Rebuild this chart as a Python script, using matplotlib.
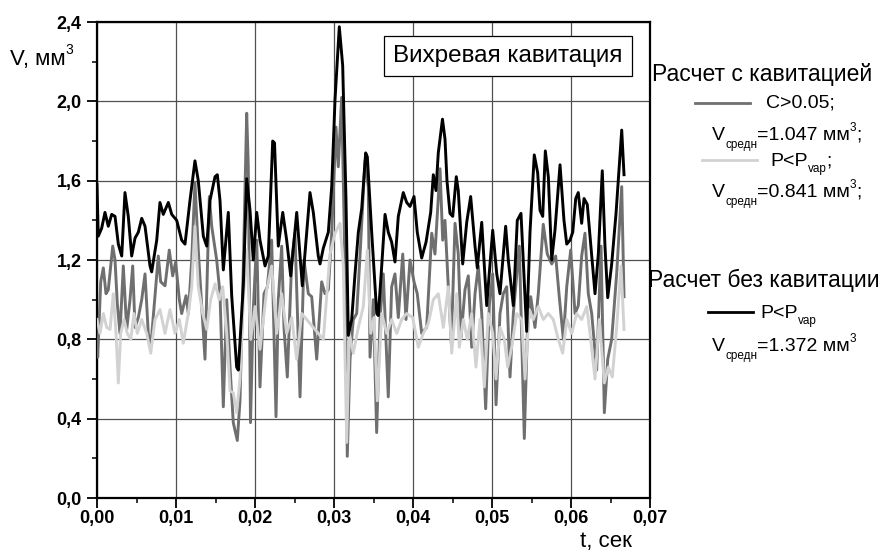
import matplotlib
matplotlib.use("Agg")
import matplotlib.pyplot as plt
from matplotlib.ticker import MultipleLocator, FuncFormatter
from matplotlib.lines import Line2D

plt.rcParams['font.family'] = ['Liberation Sans', 'DejaVu Sans']

# Расчет без кавитации, P<Pvap (black)
t_nocav = [0.0, 0.00016, 0.00059, 0.00101, 0.00143, 0.00186, 0.00228, 0.0027, 0.00313, 0.00354,
           0.00396, 0.00439, 0.00481, 0.00523, 0.00566, 0.00608, 0.00671, 0.00692, 0.00756, 0.00797,
           0.00839, 0.00903, 0.00946, 0.01009, 0.01072, 0.01114, 0.01177, 0.0124, 0.01282, 0.01346,
           0.01389, 0.0143, 0.01494, 0.01523, 0.01557, 0.01599, 0.01662, 0.01705, 0.01768, 0.01789,
           0.01852, 0.01895, 0.01937, 0.01978, 0.02022, 0.02063, 0.02127, 0.02168, 0.02224, 0.02247,
           0.02295, 0.02351, 0.02401, 0.02452, 0.02528, 0.02599, 0.02696, 0.02738, 0.02801, 0.02823,
           0.02865, 0.02928, 0.02971, 0.03013, 0.03067, 0.0311, 0.03152, 0.03181, 0.03224, 0.03266,
           0.03308, 0.03351, 0.03401, 0.03422, 0.03477, 0.03541, 0.03561, 0.03604, 0.03646, 0.03687,
           0.0373, 0.03772, 0.03814, 0.03877, 0.0392, 0.03962, 0.04013, 0.04054, 0.0411, 0.04165,
           0.04224, 0.04257, 0.04291, 0.0432, 0.04373, 0.04405, 0.0443, 0.04468, 0.04503, 0.04548,
           0.04573, 0.04629, 0.0468, 0.0473, 0.04785, 0.04814, 0.0487, 0.04933, 0.05009, 0.0506,
           0.05101, 0.05173, 0.05206, 0.0527, 0.0532, 0.05367, 0.05439, 0.05481, 0.05535, 0.05578,
           0.05608, 0.05642, 0.05675, 0.05713, 0.05756, 0.05797, 0.05861, 0.05911, 0.05946, 0.05987,
           0.06022, 0.0606, 0.06092, 0.06135, 0.06165, 0.06206, 0.06304, 0.06346, 0.06396, 0.0643,
           0.06465, 0.06515, 0.0657, 0.06642, 0.06671]
v_nocav = [1.58, 1.32, 1.36, 1.44, 1.37, 1.43, 1.42, 1.28, 1.22, 1.54,
           1.42, 1.22, 1.31, 1.34, 1.41, 1.37, 1.17, 1.14, 1.30, 1.49,
           1.43, 1.49, 1.43, 1.40, 1.30, 1.28, 1.50, 1.70, 1.60, 1.32,
           1.27, 1.50, 1.62, 1.63, 1.50, 1.15, 1.44, 1.02, 0.66, 0.645,
           1.07, 1.61, 1.45, 1.20, 1.44, 1.30, 1.17, 1.22, 1.80, 1.79,
           1.27, 1.44, 1.30, 1.12, 1.44, 1.07, 1.54, 1.44, 1.22, 1.18,
           1.26, 1.34, 1.57, 2.01, 2.376, 2.18, 1.50, 0.82, 0.90, 1.13,
           1.34, 1.46, 1.74, 1.72, 1.34, 0.93, 0.92, 1.17, 1.43, 1.34,
           1.29, 1.19, 1.42, 1.54, 1.49, 1.47, 1.52, 1.34, 1.21, 1.29,
           1.44, 1.63, 1.55, 1.74, 1.91, 1.81, 1.60, 1.435, 1.42, 1.62,
           1.55, 1.18, 1.39, 1.52, 1.27, 1.16, 1.39, 0.97, 1.35, 1.13,
           1.03, 1.37, 1.20, 0.97, 1.40, 1.435, 0.84, 1.34, 1.73, 1.64,
           1.45, 1.42, 1.75, 1.62, 1.20, 1.35, 1.68, 1.40, 1.28, 1.30,
           1.34, 1.51, 1.54, 1.385, 1.51, 1.48, 1.03, 1.23, 1.65, 1.27,
           1.01, 1.18, 1.435, 1.855, 1.63]

# Расчет с кавитацией, C>0.05 (dark gray)
t_c05 = [0.0, 0.00009, 0.00047, 0.0008, 0.00114, 0.00143, 0.00199, 0.00228, 0.00257, 0.00291,
         0.00333, 0.00376, 0.00418, 0.00452, 0.00481, 0.00523, 0.00566, 0.00608, 0.00649, 0.0068,
         0.00734, 0.00776, 0.00806, 0.00861, 0.00915, 0.00958, 0.00996, 0.01042, 0.01072, 0.01127,
         0.01156, 0.01199, 0.0124, 0.01282, 0.01346, 0.01367, 0.01422, 0.01452, 0.01515, 0.01557,
         0.01599, 0.01642, 0.01684, 0.01725, 0.01776, 0.0181, 0.01852, 0.01895, 0.01915, 0.01943,
         0.01978, 0.02022, 0.02063, 0.02114, 0.02156, 0.02211, 0.02266, 0.02295, 0.02338, 0.02367,
         0.02409, 0.02465, 0.02506, 0.0257, 0.0262, 0.02675, 0.02718, 0.02781, 0.02844, 0.02886,
         0.02928, 0.02971, 0.03025, 0.03054, 0.03097, 0.03139, 0.03168, 0.03203, 0.03244, 0.03287,
         0.03329, 0.03392, 0.03434, 0.03456, 0.03497, 0.0354, 0.03582, 0.03624, 0.03687, 0.0373,
         0.03772, 0.03814, 0.0387, 0.03911, 0.03962, 0.04013, 0.04054, 0.0411, 0.04173, 0.04237,
         0.04278, 0.04342, 0.04376, 0.04405, 0.04447, 0.04485, 0.04532, 0.04573, 0.04608, 0.04658,
         0.047, 0.04743, 0.04785, 0.04827, 0.0487, 0.0492, 0.04966, 0.05009, 0.05051, 0.05101,
         0.05143, 0.05186, 0.05228, 0.0527, 0.05346, 0.05409, 0.05447, 0.0549, 0.05544, 0.05586,
         0.05649, 0.057, 0.05756, 0.05806, 0.05848, 0.05903, 0.05946, 0.05996, 0.06051, 0.06092,
         0.06135, 0.06177, 0.06219, 0.06262, 0.06325, 0.0638, 0.06422, 0.06465, 0.06515, 0.06578,
         0.06642, 0.06671]
v_c05 = [0.76, 0.71, 1.09, 1.16, 1.03, 1.05, 1.27, 1.20, 0.98, 0.83,
         1.17, 0.85, 1.00, 1.17, 0.86, 0.91, 1.00, 1.13, 0.83, 0.76,
         1.02, 1.22, 1.09, 1.07, 1.25, 1.12, 1.19, 1.00, 0.93, 1.02,
         0.93, 1.20, 1.59, 1.25, 0.83, 0.70, 1.52, 1.37, 1.20, 1.03,
         0.46, 1.00, 0.66, 0.38, 0.29, 0.49, 1.17, 1.94, 1.67, 0.38,
         0.95, 1.30, 0.56, 1.03, 1.065, 1.30, 0.41, 1.00, 1.27, 0.86,
         0.61, 1.20, 1.335, 0.51, 1.20, 1.03, 1.015, 0.70, 1.09, 1.03,
         1.05, 1.335, 1.87, 1.67, 2.02, 1.17, 0.21, 0.70, 0.90, 0.93,
         1.22, 1.70, 1.57, 0.71, 1.00, 0.33, 0.90, 1.13, 0.51, 1.065,
         1.13, 0.91, 1.23, 0.90, 1.20, 1.09, 1.03, 0.83, 0.86, 1.335,
         1.23, 1.66, 1.30, 1.40, 1.065, 0.78, 1.385, 1.23, 0.81, 1.05,
         1.12, 0.76, 1.03, 1.17, 0.93, 0.45, 0.97, 1.13, 0.47, 0.93,
         1.03, 1.065, 0.61, 0.93, 1.27, 0.30, 0.83, 1.015, 0.86, 1.03,
         1.38, 1.23, 1.18, 1.22, 1.03, 0.80, 1.065, 1.25, 0.93, 0.97,
         1.22, 1.335, 1.03, 0.93, 0.645, 1.27, 0.43, 0.70, 0.80, 1.13,
         1.57, 1.015]

# Расчет с кавитацией, P<Pvap (light gray)
t_pvap = [0.0, 0.00038, 0.0008, 0.00123, 0.00165, 0.00206, 0.00241, 0.0027, 0.003, 0.00342,
          0.00384, 0.00427, 0.00468, 0.0051, 0.00566, 0.00629, 0.0068, 0.00734, 0.00797, 0.00861,
          0.00924, 0.00987, 0.01042, 0.01092, 0.01156, 0.01199, 0.0124, 0.01282, 0.01338, 0.01389,
          0.01439, 0.01494, 0.01548, 0.01591, 0.01642, 0.01684, 0.01725, 0.01768, 0.0181, 0.01852,
          0.01895, 0.01946, 0.02, 0.02063, 0.02148, 0.02211, 0.02275, 0.02338, 0.02401, 0.02465,
          0.02528, 0.02591, 0.02654, 0.02738, 0.02801, 0.02865, 0.02949, 0.03013, 0.03076, 0.03118,
          0.03161, 0.03194, 0.03244, 0.03308, 0.03371, 0.03422, 0.03465, 0.03506, 0.03548, 0.03604,
          0.03667, 0.0373, 0.03794, 0.03857, 0.0392, 0.03996, 0.04067, 0.0413, 0.04194, 0.04257,
          0.0432, 0.04384, 0.04447, 0.0449, 0.04553, 0.04586, 0.04637, 0.04687, 0.04743, 0.04797,
          0.04848, 0.04903, 0.04953, 0.05009, 0.05051, 0.05101, 0.05156, 0.05199, 0.05249, 0.05313,
          0.05376, 0.05418, 0.05472, 0.05523, 0.05586, 0.05649, 0.05713, 0.05776, 0.05839, 0.05895,
          0.05946, 0.06009, 0.06072, 0.06135, 0.06199, 0.06241, 0.06304, 0.06358, 0.06422, 0.06472,
          0.06523, 0.06578, 0.06633, 0.06671]
v_pvap = [0.90, 0.83, 0.93, 0.86, 0.85, 1.03, 0.83, 0.58, 0.83, 0.90,
          0.83, 0.80, 0.93, 0.83, 0.90, 0.83, 0.73, 0.90, 0.95, 0.83,
          0.95, 0.83, 0.90, 0.78, 0.93, 1.065, 1.37, 1.065, 0.93, 0.85,
          1.00, 1.08, 1.00, 1.065, 0.83, 0.54, 0.53, 0.43, 0.60, 1.00,
          1.25, 0.80, 0.965, 0.75, 1.05, 1.17, 0.83, 1.03, 0.83, 0.91,
          0.70, 0.93, 0.90, 0.86, 0.83, 0.80, 1.23, 1.335, 1.385, 1.17,
          0.28, 0.83, 0.73, 0.86, 0.965, 1.25, 0.83, 0.91, 0.49, 0.93,
          0.83, 0.90, 0.83, 0.90, 0.93, 0.91, 0.76, 0.83, 0.88, 1.00,
          1.03, 0.86, 1.065, 0.73, 1.03, 0.76, 0.90, 0.80, 0.93, 0.66,
          0.90, 0.56, 0.93, 0.83, 0.60, 0.86, 0.80, 0.66, 0.76, 0.93,
          0.90, 0.60, 0.95, 0.90, 0.965, 0.90, 0.93, 0.90, 0.80, 0.73,
          0.90, 0.83, 0.93, 0.90, 0.965, 0.83, 0.60, 0.90, 0.58, 0.66,
          0.61, 0.86, 1.17, 0.85]

y_ticks = [0.0, 0.4, 0.8, 1.2, 1.6, 2.0, 2.4]
x_ticks = [0.00, 0.01, 0.02, 0.03, 0.04, 0.05, 0.06, 0.07]

c_dark = '#6f6f6f'
c_light = '#d2d2d2'

W, H = 881, 552
fig = plt.figure(figsize=(W / 100, H / 100), dpi=100)
ax = fig.add_axes([97/W, 1 - 498/H, (650 - 97)/W, (498 - 22)/H])

ax.plot(t_c05, v_c05, color=c_dark, lw=2.1, zorder=3)
ax.plot(t_pvap, v_pvap, color=c_light, lw=2.1, zorder=3)
ax.plot(t_nocav, v_nocav, color='black', lw=2.1, zorder=4)

ax.set_xlim(0, 0.07)
ax.set_ylim(0, 2.4)
ax.set_xticks(x_ticks)
ax.set_yticks(y_ticks)
ax.xaxis.set_minor_locator(MultipleLocator(0.005))
ax.yaxis.set_minor_locator(MultipleLocator(0.2))
ax.xaxis.set_major_formatter(FuncFormatter(lambda v, p: f'{v:.2f}'.replace('.', ',')))
ax.yaxis.set_major_formatter(FuncFormatter(lambda v, p: f'{v:.1f}'.replace('.', ',')))
ax.grid(True, which='major', color='#505050', lw=0.9, zorder=1)

for s in ax.spines.values():
    s.set_linewidth(1.6)
ax.tick_params(which='major', direction='out', length=7, width=1.3)
ax.tick_params(which='minor', direction='out', length=3.5, width=1.1)
ax.tick_params(axis='y', pad=4)
ax.tick_params(axis='x', pad=2)
for lab in ax.get_xticklabels() + ax.get_yticklabels():
    lab.set_fontweight('bold')
    lab.set_fontsize(13)

renderer = fig.canvas.get_renderer()


def fy(y):
    return 1 - y / H


def rich(x, y, parts):
    # parts: (text, size, shift in px up from baseline)
    for s, size, rise in parts:
        t = fig.text(x / W, fy(y - rise), s, fontsize=size, ha='left', va='baseline')
        x += t.get_window_extent(renderer).width
    return x


# box label inside the plot
fig.text(508/W, fy(56), 'Вихревая кавитация', fontsize=17.5, ha='center', va='center',
         bbox=dict(boxstyle='square,pad=0.38', fc='white', ec='black', lw=0.9))

# axis labels
rich(10, 65, [('V, мм', 16, 0), ('3', 10, 11)])
fig.text(606/W, fy(541), 't, сек', fontsize=16, ha='center', va='center')

# right-side legend
main, small = 14, 8.5
fig.text(652/W, fy(75), 'Расчет с кавитацией', fontsize=16.5, ha='left', va='center')
fig.add_artist(Line2D([695/W, 750/W], [fy(103), fy(103)], color=c_dark, lw=2))
fig.text(766/W, fy(103), 'C>0.05;', fontsize=main, ha='left', va='center')
rich(712, 140, [('V', main, 0), ('средн', small, -8), ('=1.047 мм', main, 0),
                ('3', small, 9), (';', main, 0)])
fig.add_artist(Line2D([702/W, 757/W], [fy(160), fy(160)], color=c_light, lw=2))
rich(770, 166, [('P<P', main, 0), ('vap', small, -6), (';', main, 0)])
rich(712, 197, [('V', main, 0), ('средн', small, -8), ('=0.841 мм', main, 0),
                ('3', small, 9), (';', main, 0)])

fig.text(648/W, fy(280), 'Расчет без кавитации', fontsize=16.5, ha='left', va='center')
fig.add_artist(Line2D([708/W, 753/W], [fy(312), fy(312)], color='black', lw=2))
rich(760, 318, [('P<P', main, 0), ('vap', small, -6)])
rich(712, 351, [('V', main, 0), ('средн', small, -8), ('=1.372 мм', main, 0),
                ('3', small, 9)])

fig.savefig('out.png', dpi=100)
